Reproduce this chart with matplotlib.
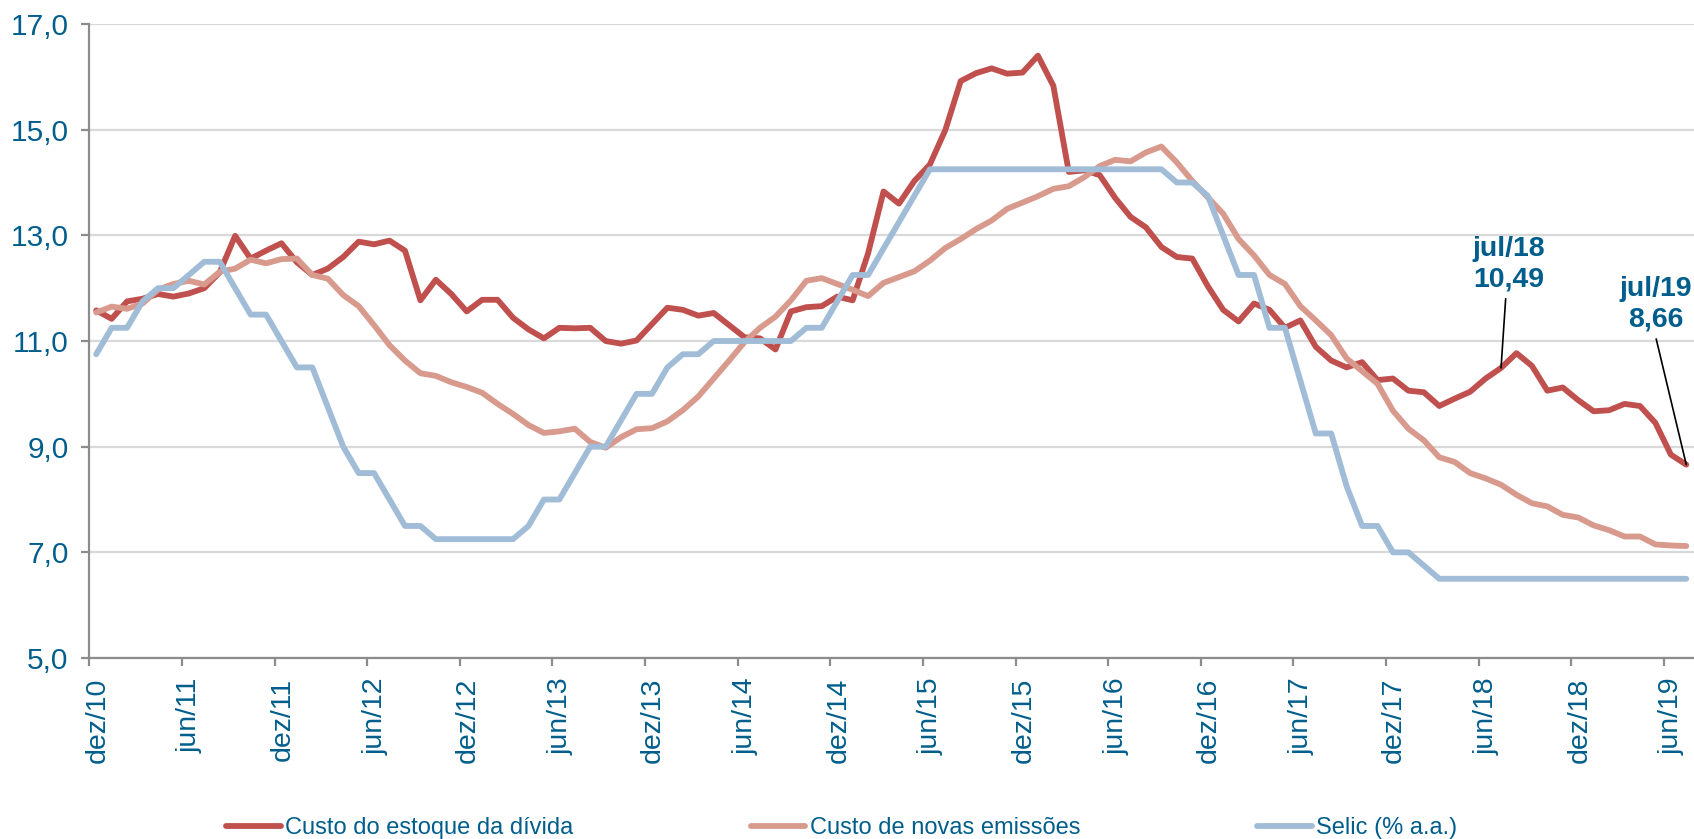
import numpy as np
import matplotlib.pyplot as plt
from matplotlib.transforms import ScaledTranslation

plt.rcParams["font.family"] = ["Liberation Sans", "DejaVu Sans"]

TEXT_BLUE = "#005E8C"
RED = "#C0504D"
PINK = "#D99A8E"
LIGHT_BLUE = "#A0BCD6"

# =========================
# DATA (monthly, dez/10 .. jul/19)
# =========================
tick_labels = ["dez/10", "jun/11", "dez/11", "jun/12", "dez/12", "jun/13",
               "dez/13", "jun/14", "dez/14", "jun/15", "dez/15", "jun/16",
               "dez/16", "jun/17", "dez/17", "jun/18", "dez/18", "jun/19"]

estoque = [
    11.58, 11.42, 11.75, 11.80, 11.89, 11.84, 11.90, 12.00, 12.30, 12.99,
    12.56, 12.71, 12.85, 12.49, 12.25, 12.37, 12.59, 12.88, 12.83, 12.90,
    12.71, 11.77, 12.16, 11.89, 11.56, 11.78, 11.78, 11.44, 11.22, 11.05,
    11.25, 11.24, 11.25, 11.00, 10.95, 11.01, 11.32, 11.63, 11.59, 11.48,
    11.53, 11.30, 11.07, 11.05, 10.84, 11.56, 11.64, 11.66, 11.84, 11.77,
    12.66, 13.83, 13.60, 14.03, 14.34, 14.99, 15.92, 16.07, 16.16, 16.06,
    16.08, 16.40, 15.83, 14.20, 14.23, 14.14, 13.71, 13.35, 13.15, 12.78,
    12.59, 12.56, 12.04, 11.59, 11.37, 11.71, 11.59, 11.25, 11.39, 10.89,
    10.63, 10.50, 10.60, 10.26, 10.29, 10.06, 10.03, 9.77, 9.91, 10.04,
    10.29, 10.49, 10.77, 10.53, 10.06, 10.12, 9.88, 9.67, 9.69, 9.81,
    9.77, 9.45, 8.85, 8.66,
]

novas = [
    11.54, 11.65, 11.61, 11.71, 11.97, 12.08, 12.14, 12.07, 12.31, 12.37,
    12.54, 12.47, 12.55, 12.56, 12.25, 12.18, 11.87, 11.66, 11.30, 10.92,
    10.63, 10.39, 10.34, 10.22, 10.13, 10.02, 9.81, 9.62, 9.41, 9.26,
    9.29, 9.34, 9.09, 8.98, 9.18, 9.33, 9.35, 9.48, 9.69, 9.95,
    10.29, 10.63, 10.98, 11.25, 11.46, 11.77, 12.14, 12.19, 12.08, 11.97,
    11.85, 12.10, 12.21, 12.32, 12.52, 12.76, 12.93, 13.12, 13.28, 13.50,
    13.62, 13.74, 13.88, 13.93, 14.10, 14.31, 14.43, 14.40, 14.57, 14.68,
    14.38, 14.03, 13.72, 13.41, 12.93, 12.62, 12.25, 12.08, 11.66, 11.39,
    11.11, 10.67, 10.43, 10.19, 9.68, 9.34, 9.12, 8.80, 8.71, 8.50,
    8.40, 8.28, 8.09, 7.93, 7.87, 7.71, 7.66, 7.51, 7.42, 7.30,
    7.30, 7.15, 7.13, 7.12,
]

selic = [
    10.75, 11.25, 11.25, 11.75, 12.00, 12.00, 12.25, 12.50, 12.50, 12.00,
    11.50, 11.50, 11.00, 10.50, 10.50, 9.75, 9.00, 8.50, 8.50, 8.00,
    7.50, 7.50, 7.25, 7.25, 7.25, 7.25, 7.25, 7.25, 7.50, 8.00,
    8.00, 8.50, 9.00, 9.00, 9.50, 10.00, 10.00, 10.50, 10.75, 10.75,
    11.00, 11.00, 11.00, 11.00, 11.00, 11.00, 11.25, 11.25, 11.75, 12.25,
    12.25, 12.75, 13.25, 13.75, 14.25, 14.25, 14.25, 14.25, 14.25, 14.25,
    14.25, 14.25, 14.25, 14.25, 14.25, 14.25, 14.25, 14.25, 14.25, 14.25,
    14.00, 14.00, 13.75, 13.00, 12.25, 12.25, 11.25, 11.25, 10.25, 9.25,
    9.25, 8.25, 7.50, 7.50, 7.00, 7.00, 6.75, 6.50, 6.50, 6.50,
    6.50, 6.50, 6.50, 6.50, 6.50, 6.50, 6.50, 6.50, 6.50, 6.50,
    6.50, 6.50, 6.50, 6.50,
]

series_names = ["Custo do estoque da dívida", "Custo de novas emissões",
                "Selic (% a.a.)"]

# highlighted points: (index, label)
highlights = [(91, "jul/18"), (103, "jul/19")]

# =========================
# PLOT
# =========================
months = np.arange(len(estoque))
TICK_SHIFT = -0.45

fig = plt.figure(figsize=(16.94, 8.39), dpi=100)
ax = fig.add_axes([0.0527, 0.2157, 0.9473, 0.7557])

lines = []
for vals, color, name, z in [(estoque, RED, series_names[0], 3),
                             (novas, PINK, series_names[1], 4),
                             (selic, LIGHT_BLUE, series_names[2], 5)]:
    ln, = ax.plot(months, vals, color=color, lw=4.2, label=name, zorder=z,
                  solid_joinstyle="round", solid_capstyle="round")
    lines.append(ln)

ax.set_xlim(TICK_SHIFT, 103.5)
ax.set_ylim(5, 17)

yt = np.arange(5, 17.1, 2)
ax.set_yticks(yt)
ax.set_yticklabels([f"{v:.1f}".replace(".", ",") for v in yt])
ax.set_xticks(np.arange(0, len(estoque), 6) + TICK_SHIFT)
ax.set_xticklabels(tick_labels, rotation=90, ha="center", va="top")

ax.grid(axis="y", color="#D9D9D9", lw=1.6, zorder=0)
ax.set_axisbelow(True)
for side in ["top", "right"]:
    ax.spines[side].set_visible(False)
for side in ["left", "bottom"]:
    ax.spines[side].set_color("#8C8C8C")
    ax.spines[side].set_linewidth(1.6)

ax.tick_params(axis="y", colors="#8C8C8C", labelcolor=TEXT_BLUE,
               labelsize=21.5, length=6, width=1.6, pad=9)
ax.tick_params(axis="x", colors="#8C8C8C", labelcolor=TEXT_BLUE,
               labelsize=20.5, length=6, width=1.6, pad=8)

offset = ScaledTranslation(8 / 100, 0, fig.dpi_scale_trans)
for lbl in ax.get_xticklabels():
    lbl.set_transform(lbl.get_transform() + offset)

# annotations for highlighted points
text_pos = {91: (91.47, 12.45, 91.3, 11.80), 103: (101.0, 11.70, 101.05, 11.04)}
for idx, month_lbl in highlights:
    val = estoque[idx]
    tx, ty, lx, ly = text_pos[idx]
    ax.text(tx, ty, f"{month_lbl}\n{val:.2f}".replace(".", ","),
            ha="center", va="center", ma="center", fontsize=20.5,
            fontweight="bold", color=TEXT_BLUE, linespacing=1.2, zorder=6)
    ax.annotate("", xy=(idx, val), xytext=(lx, ly),
                arrowprops=dict(arrowstyle="-", color="black", lw=1.2,
                                shrinkA=0, shrinkB=0), zorder=6)

fig.legend(handles=lines, labels=series_names, loc="center",
           bbox_to_anchor=(842 / 1694, 1 - 828 / 839), ncol=3,
           frameon=False, fontsize=17, handlelength=2.3,
           handletextpad=0.2, columnspacing=7.5, labelcolor=TEXT_BLUE,
           borderaxespad=0, borderpad=0)

fig.savefig("out.png", dpi=100)
